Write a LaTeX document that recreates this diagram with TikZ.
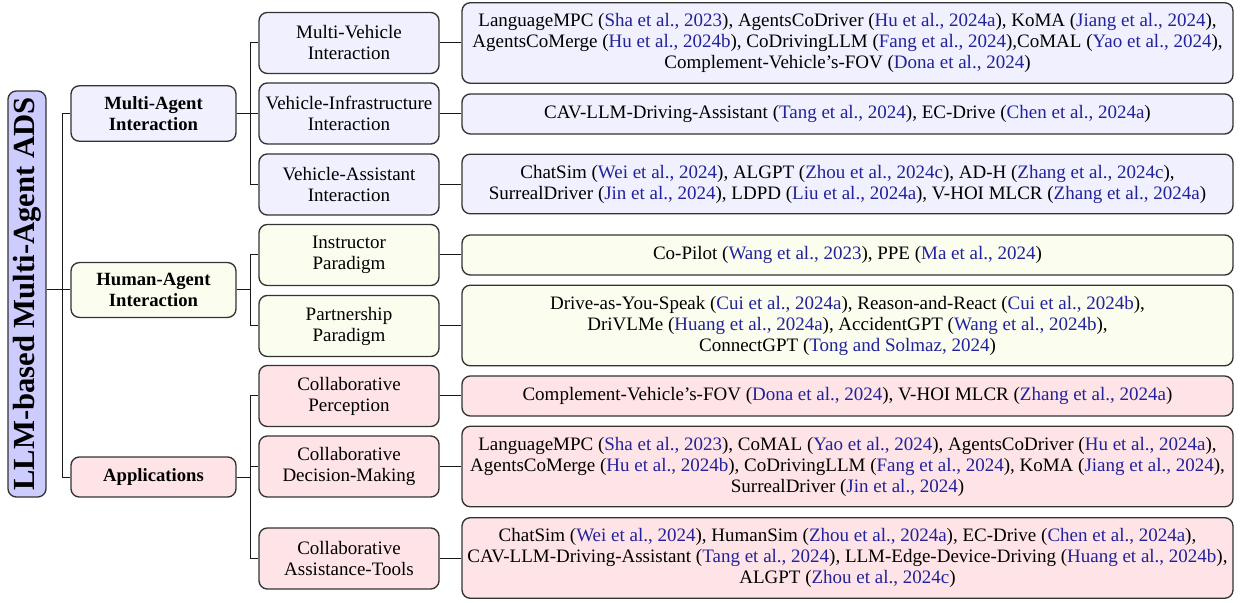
\documentclass[tikz,border=0pt]{standalone}
\usepackage{fontspec}
\setmainfont{Liberation Serif}

\definecolor{rootblue}{HTML}{CCCCFF}
\definecolor{maiblue}{HTML}{F0F0FE}
\definecolor{haiyellow}{HTML}{FBFEEE}
\definecolor{apppink}{HTML}{FEE4E7}
\definecolor{citeblue}{RGB}{34,34,154}
\newcommand{\rc}[1]{(\textcolor{citeblue}{#1})}

\begin{document}
\begin{tikzpicture}[x=0.6pt, y=-0.6pt,
  box/.style={draw=black!80, line width=0.8pt, rounded corners=5pt, align=center, font=\fontsize{11.4}{12.6}\selectfont, inner ysep=6.4pt, inner xsep=1pt},
  rootnode/.style={box, fill=rootblue, rotate=90, minimum width=243.6pt, minimum height=22.8pt, inner ysep=1pt, font=\fontsize{18.4}{20}\selectfont\bfseries},
  catnode/.style={box, minimum width=99pt, minimum height=24pt, font=\fontsize{11.2}{12.6}\selectfont\bfseries},
  subnode/.style={box, minimum width=108pt, minimum height=36.6pt},
  leafnode/.style={box, minimum width=462.6pt, minimum height=24pt},
  tree/.style={line width=0.6pt, black!90}]
\useasboundingbox (0,0) rectangle (1241,603);

% root
\node [rootnode] (root) at (27,294) {LLM-based Multi-Agent ADS};

% categories
\node [catnode, fill=maiblue] (c1) at (153.5,113.5) {Multi-Agent\\Interaction};
\node [catnode, fill=haiyellow] (c2) at (153.5,290) {Human-Agent\\Interaction};
\node [catnode, fill=apppink] (c3) at (153.5,477) {Applications};

% sub categories
\node [subnode, fill=maiblue] (s1) at (349,43) {Multi-Vehicle\\Interaction};
\node [subnode, fill=maiblue] (s2) at (349,113.5) {Vehicle-Infrastructure\\Interaction};
\node [subnode, fill=maiblue] (s3) at (349,184.5) {Vehicle-Assistant\\Interaction};
\node [subnode, fill=haiyellow] (s4) at (349,255) {Instructor\\Paradigm};
\node [subnode, fill=haiyellow] (s5) at (349,326) {Partnership\\Paradigm};
\node [subnode, fill=apppink] (s6) at (349,396) {Collaborative\\Perception};
\node [subnode, fill=apppink] (s7) at (349,466.5) {Collaborative\\Decision-Making};
\node [subnode, fill=apppink] (s8) at (349,558.5) {Collaborative\\Assistance-Tools};

% works
\node [leafnode, fill=maiblue] (l1) at (847.5,43) {LanguageMPC \rc{Sha et al., 2023}, AgentsCoDriver \rc{Hu et al., 2024a}, KoMA \rc{Jiang et al., 2024},\\AgentsCoMerge \rc{Hu et al., 2024b}, CoDrivingLLM \rc{Fang et al., 2024},CoMAL \rc{Yao et al., 2024},\\Complement-Vehicle's-FOV \rc{Dona et al., 2024}};
\node [leafnode, fill=maiblue] (l2) at (847.5,114) {CAV-LLM-Driving-Assistant \rc{Tang et al., 2024}, EC-Drive \rc{Chen et al., 2024a}};
\node [leafnode, fill=maiblue] (l3) at (847.5,184) {ChatSim \rc{Wei et al., 2024}, ALGPT \rc{Zhou et al., 2024c}, AD-H \rc{Zhang et al., 2024c},\\SurrealDriver \rc{Jin et al., 2024}, LDPD \rc{Liu et al., 2024a}, V-HOI MLCR \rc{Zhang et al., 2024a}};
\node [leafnode, fill=haiyellow] (l4) at (847.5,255) {Co-Pilot \rc{Wang et al., 2023}, PPE \rc{Ma et al., 2024}};
\node [leafnode, fill=haiyellow] (l5) at (847.5,325.5) {Drive-as-You-Speak \rc{Cui et al., 2024a}, Reason-and-React \rc{Cui et al., 2024b},\\DriVLMe \rc{Huang et al., 2024a}, AccidentGPT \rc{Wang et al., 2024b},\\ConnectGPT \rc{Tong and Solmaz, 2024}};
\node [leafnode, fill=apppink] (l6) at (847.5,396) {Complement-Vehicle's-FOV \rc{Dona et al., 2024}, V-HOI MLCR \rc{Zhang et al., 2024a}};
\node [leafnode, fill=apppink] (l7) at (847.5,466.5) {LanguageMPC \rc{Sha et al., 2023}, CoMAL \rc{Yao et al., 2024}, AgentsCoDriver \rc{Hu et al., 2024a},\\AgentsCoMerge \rc{Hu et al., 2024b}, CoDrivingLLM \rc{Fang et al., 2024}, KoMA \rc{Jiang et al., 2024},\\SurrealDriver \rc{Jin et al., 2024}};
\node [leafnode, fill=apppink] (l8) at (847.5,558) {ChatSim \rc{Wei et al., 2024}, HumanSim \rc{Zhou et al., 2024a}, EC-Drive \rc{Chen et al., 2024a},\\CAV-LLM-Driving-Assistant \rc{Tang et al., 2024}, LLM-Edge-Device-Driving \rc{Huang et al., 2024b},\\ALGPT \rc{Zhou et al., 2024c}};

% tree lines
\draw [tree] (root.south |- c2.west) -- (c2.west);
\draw [tree] (root.south |- c2.west) -- ++(16,0) |- (c1.west);
\draw [tree] (root.south |- c2.west) -- ++(16,0) |- (c3.west);
\draw [tree] (c1.east) -- ++(14,0) |- (s1.west);
\draw [tree] (c1.east) -- ++(14,0) |- (s2.west);
\draw [tree] (c1.east) -- ++(14,0) |- (s3.west);
\draw [tree] (c2.east) -- ++(14,0) |- (s4.west);
\draw [tree] (c2.east) -- ++(14,0) |- (s5.west);
\draw [tree] (c3.east) -- ++(14,0) |- (s6.west);
\draw [tree] (c3.east) -- ++(14,0) |- (s7.west);
\draw [tree] (c3.east) -- ++(14,0) |- (s8.west);
\draw [tree] (s1.east) -- (s1.east -| l1.west);
\draw [tree] (s2.east) -- (s2.east -| l2.west);
\draw [tree] (s3.east) -- (s3.east -| l3.west);
\draw [tree] (s4.east) -- (s4.east -| l4.west);
\draw [tree] (s5.east) -- (s5.east -| l5.west);
\draw [tree] (s6.east) -- (s6.east -| l6.west);
\draw [tree] (s7.east) -- (s7.east -| l7.west);
\draw [tree] (s8.east) -- (s8.east -| l8.west);
\end{tikzpicture}
\end{document}
